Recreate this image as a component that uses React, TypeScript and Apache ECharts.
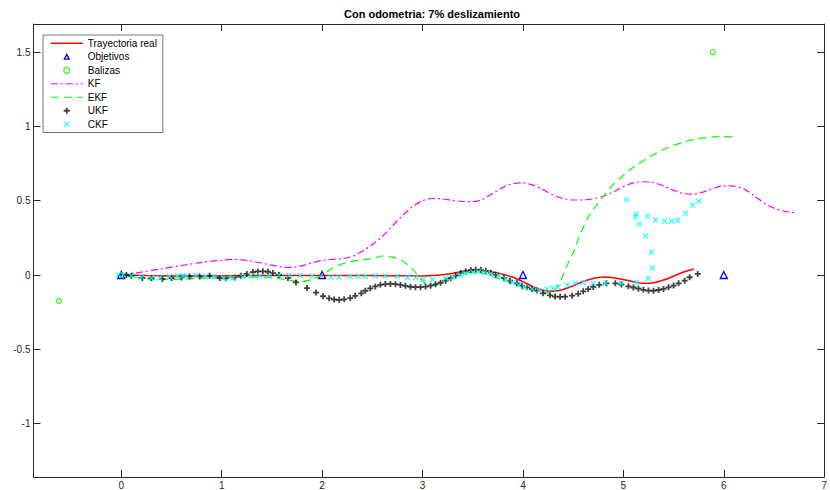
import React, { useEffect, useRef } from "react";
import * as echarts from "echarts";

const FONT = "'Liberation Sans', Arial, Helvetica, sans-serif";

// Trayectoria real
const realX = [0, 0.25, 0.5, 0.75, 1, 1.25, 1.5, 1.75, 2, 2.25, 2.5, 2.75, 3, 3.1, 3.2, 3.3, 3.4, 3.5, 3.6, 3.7, 3.8, 3.9, 4, 4.1, 4.2, 4.3, 4.4, 4.5, 4.6, 4.7, 4.8, 4.9, 5, 5.1, 5.2, 5.3, 5.4, 5.5, 5.6, 5.7];
const realY = [0, -0.004, -0.006, -0.007, -0.006, -0.004, -0.003, -0.003, -0.003, -0.003, -0.004, -0.005, -0.006, -0.004, 0.002, 0.012, 0.024, 0.032, 0.03, 0.02, 0.005, -0.015, -0.045, -0.078, -0.103, -0.11, -0.098, -0.072, -0.044, -0.024, -0.014, -0.018, -0.03, -0.046, -0.056, -0.052, -0.034, -0.008, 0.02, 0.04];

// Objetivos
const objX = [0, 2, 4, 6];
const objY = [0, 0, 0, 0];

// Balizas
const balX = [-0.62, 5.89];
const balY = [-0.175, 1.5];

// KF
const kfX = [0, 0.2, 0.4, 0.6, 0.8, 1.0, 1.1, 1.2, 1.3, 1.4, 1.5, 1.6, 1.7, 1.8, 1.9, 2.0, 2.1, 2.2, 2.3, 2.4, 2.5, 2.6, 2.7, 2.8, 2.9, 3.0, 3.1, 3.2, 3.3, 3.4, 3.5, 3.6, 3.7, 3.8, 3.9, 4.0, 4.1, 4.2, 4.3, 4.4, 4.5, 4.6, 4.7, 4.8, 4.9, 5.0, 5.1, 5.2, 5.3, 5.4, 5.5, 5.6, 5.7, 5.8, 5.9, 6.0, 6.1, 6.2, 6.3, 6.4, 6.5, 6.6, 6.7];
const kfY = [0, 0.02, 0.042, 0.064, 0.085, 0.1, 0.105, 0.102, 0.093, 0.08, 0.066, 0.055, 0.052, 0.062, 0.082, 0.098, 0.105, 0.11, 0.125, 0.16, 0.205, 0.26, 0.33, 0.4, 0.46, 0.5, 0.515, 0.512, 0.503, 0.495, 0.494, 0.51, 0.55, 0.59, 0.615, 0.62, 0.605, 0.575, 0.54, 0.515, 0.505, 0.505, 0.513, 0.53, 0.56, 0.595, 0.62, 0.628, 0.622, 0.6, 0.57, 0.548, 0.545, 0.56, 0.585, 0.6, 0.598, 0.58, 0.535, 0.485, 0.45, 0.43, 0.42];

// EKF
const ekfX = [0, 0.1, 0.2, 0.3, 0.4, 0.6, 0.8, 1.0, 1.2, 1.4, 1.5, 1.6, 1.7, 1.8, 1.9, 2.0, 2.1, 2.2, 2.3, 2.4, 2.5, 2.6, 2.7, 2.8, 2.9, 3.0, 3.05, 3.1, 3.2, 3.3, 3.4, 3.5, 3.6, 3.7, 3.8, 3.9, 4.0, 4.1, 4.2, 4.28, 4.35, 4.4, 4.45, 4.5, 4.55, 4.6, 4.65, 4.7, 4.8, 4.9, 5.0, 5.1, 5.2, 5.3, 5.4, 5.5, 5.6, 5.7, 5.8, 5.9, 6.0, 6.1];
const ekfY = [0, -0.01, -0.02, -0.027, -0.03, -0.028, -0.022, -0.02, -0.016, -0.014, -0.018, -0.027, -0.038, -0.044, -0.03, 0.0, 0.045, 0.075, 0.092, 0.102, 0.11, 0.128, 0.12, 0.095, 0.04, -0.04, -0.065, -0.07, -0.04, -0.012, 0.008, 0.02, 0.012, -0.012, -0.035, -0.058, -0.078, -0.098, -0.118, -0.12, -0.07, 0.0, 0.08, 0.15, 0.24, 0.32, 0.39, 0.44, 0.53, 0.61, 0.67, 0.725, 0.77, 0.81, 0.845, 0.872, 0.895, 0.912, 0.923, 0.93, 0.932, 0.93];

// UKF
const ukfX = [0, 0.05, 0.1, 0.21, 0.3, 0.41, 0.5, 0.6, 0.68, 0.78, 0.88, 0.98, 1.04, 1.13, 1.19, 1.25, 1.31, 1.36, 1.41, 1.46, 1.51, 1.57, 1.66, 1.74, 1.85, 1.94, 2.01, 2.07, 2.12, 2.17, 2.22, 2.28, 2.33, 2.39, 2.43, 2.48, 2.53, 2.58, 2.63, 2.68, 2.73, 2.78, 2.83, 2.88, 2.93, 2.98, 3.03, 3.08, 3.13, 3.18, 3.23, 3.28, 3.33, 3.38, 3.43, 3.48, 3.53, 3.58, 3.63, 3.68, 3.73, 3.81, 3.87, 3.94, 3.99, 4.04, 4.09, 4.14, 4.2, 4.27, 4.32, 4.37, 4.42, 4.49, 4.55, 4.6, 4.65, 4.7, 4.76, 4.83, 4.92, 4.98, 5.05, 5.1, 5.15, 5.2, 5.25, 5.3, 5.35, 5.4, 5.45, 5.5, 5.55, 5.61, 5.66, 5.74];
const ukfY = [0, 0, -0.005, -0.02, -0.022, -0.027, -0.02, -0.016, -0.01, -0.01, -0.005, -0.02, -0.022, -0.016, -0.005, 0.007, 0.02, 0.024, 0.025, 0.022, 0.013, 0, -0.02, -0.05, -0.088, -0.118, -0.143, -0.157, -0.165, -0.167, -0.164, -0.155, -0.14, -0.123, -0.106, -0.09, -0.077, -0.066, -0.061, -0.06, -0.062, -0.067, -0.073, -0.079, -0.082, -0.082, -0.078, -0.072, -0.063, -0.052, -0.038, -0.022, -0.004, 0.013, 0.026, 0.033, 0.036, 0.034, 0.028, 0.016, 0.002, -0.02, -0.038, -0.056, -0.072, -0.083, -0.094, -0.105, -0.123, -0.137, -0.145, -0.147, -0.146, -0.139, -0.127, -0.11, -0.095, -0.08, -0.066, -0.056, -0.056, -0.064, -0.076, -0.084, -0.092, -0.1, -0.105, -0.106, -0.101, -0.094, -0.083, -0.071, -0.056, -0.038, -0.015, 0.007];

// CKF
const ckfX = [-0.03, 0.02, 0.1, 0.2, 0.3, 0.38, 0.48, 0.56, 0.61, 0.65, 0.75, 0.84, 0.92, 1.02, 1.11, 1.21, 1.29, 1.38, 1.47, 1.57, 1.67, 1.78, 1.9, 2.09, 2.17, 2.28, 2.36, 2.43, 2.53, 2.63, 2.75, 2.85, 2.93, 3.01, 3.1, 3.23, 3.3, 3.38, 3.43, 3.5, 3.56, 3.62, 3.68, 3.76, 3.83, 3.9, 3.96, 4.02, 4.09, 4.16, 4.24, 4.3, 4.35, 4.44, 4.52, 4.6, 4.7, 4.82, 4.98, 5.13, 5.25, 5.29, 5.28, 5.22, 5.16, 5.12, 5.13, 5.03, 5.24, 5.32, 5.41, 5.48, 5.54, 5.62, 5.69, 5.75];
const ckfY = [0, 0.002, -0.005, -0.014, -0.02, -0.02, -0.01, -0.006, -0.005, -0.005, -0.002, -0.01, -0.01, -0.022, -0.022, -0.012, -0.006, -0.006, -0.006, -0.003, -0.003, -0.003, -0.008, -0.015, -0.015, -0.01, -0.008, -0.008, -0.005, -0.005, -0.009, -0.015, -0.017, -0.03, -0.032, -0.022, -0.016, 0.0, 0.012, 0.018, 0.022, 0.02, 0.01, -0.005, -0.027, -0.05, -0.068, -0.083, -0.094, -0.103, -0.094, -0.088, -0.08, -0.066, -0.055, -0.049, -0.055, -0.054, -0.058, -0.049, -0.022, 0.047, 0.152, 0.265, 0.342, 0.392, 0.41, 0.507, 0.396, 0.37, 0.362, 0.362, 0.368, 0.416, 0.47, 0.498];

// Axis ticks
const xTicks = [0, 1, 2, 3, 4, 5, 6, 7];
const yTicks = [-1, -0.5, 0, 0.5, 1, 1.5];
const xMin = -0.874;
const xMax = 7;
const yMin = -1.36;
const yMax = 1.69;

const zip = (xs: number[], ys: number[]) => xs.map((x, i) => [x, ys[i]]);

const PLUS = "path://M3.5,0H6.5V10H3.5Z M0,3.5H10V6.5H0Z";
const CROSS = "path://M0,1.5L1.5,0L5,3.5L8.5,0L10,1.5L6.5,5L10,8.5L8.5,10L5,6.5L1.5,10L0,8.5L3.5,5Z";

const AX = "#262626";

function makeXAxis(position: "bottom" | "top", labels: boolean) {
  return {
    type: "value",
    min: xMin,
    max: xMax,
    position,
    axisLine: { show: true, onZero: false, lineStyle: { color: AX, width: 1 } },
    axisTick: { show: true, inside: true, length: 7, customValues: xTicks, lineStyle: { color: AX, width: 1 } },
    axisLabel: {
      show: labels,
      customValues: xTicks,
      fontSize: 10,
      fontFamily: FONT,
      color: AX,
      margin: 3,
    },
    splitLine: { show: false },
  };
}

function makeYAxis(position: "left" | "right", labels: boolean) {
  return {
    type: "value",
    min: yMin,
    max: yMax,
    position,
    axisLine: { show: true, onZero: false, lineStyle: { color: AX, width: 1 } },
    axisTick: { show: true, inside: true, length: 7, customValues: yTicks, lineStyle: { color: AX, width: 1 } },
    axisLabel: {
      show: labels,
      customValues: yTicks,
      fontSize: 10,
      fontFamily: FONT,
      color: AX,
      margin: 3,
    },
    splitLine: { show: false },
  };
}

export default function App() {
  const ref = useRef<HTMLDivElement>(null);

  useEffect(() => {
    if (!ref.current) return;
    const chart = echarts.init(ref.current, null, { renderer: "svg" });
    const option: any = {
      animation: false,
      backgroundColor: "#ffffff",
      title: {
        text: "Con odometria: 7% deslizamiento",
        left: 432,
        top: 8,
        padding: 0,
        textAlign: "center",
        textStyle: { fontSize: 11, fontWeight: "bold", color: "#000", fontFamily: FONT },
      },
      grid: { left: 33.5, right: 2, top: 24, bottom: 11, containLabel: false },
      xAxis: [makeXAxis("bottom", true), makeXAxis("top", false)],
      yAxis: [makeYAxis("left", true), makeYAxis("right", false)],
      legend: {
        orient: "vertical",
        left: 43,
        top: 35,
        itemWidth: 32,
        itemHeight: 6,
        itemGap: 0,
        padding: [1.5, 6, 1.5, 7],
        borderColor: "#555",
        borderWidth: 0.8,
        borderRadius: 0,
        backgroundColor: "#ffffff",
        selectedMode: false,
        textStyle: { fontSize: 10, fontFamily: FONT, color: "#000", lineHeight: 13.5 },
        lineStyle: { width: "inherit" },
        data: [
          { name: "Trayectoria real", itemStyle: { opacity: 0 } },
          { name: "Objetivos", itemStyle: { borderWidth: 1.3 }, lineStyle: { opacity: 0 } },
          { name: "Balizas", itemStyle: { borderWidth: 1.3 } },
          { name: "KF", itemStyle: { opacity: 0 } },
          { name: "EKF", itemStyle: { opacity: 0 } },
          { name: "UKF", itemStyle: { borderWidth: 0 } },
          { name: "CKF", itemStyle: { borderWidth: 0 } },
        ],
      },
      series: [
        {
          name: "Trayectoria real",
          type: "line",
          data: zip(realX, realY),
          symbol: "none",
          showSymbol: false,
          smooth: 0.3,
          lineStyle: { color: "#ff0000", width: 1.5 },
          itemStyle: { color: "#ff0000" },
          z: 2,
        },
        {
          name: "Objetivos",
          type: "line",
          data: zip(objX, objY),
          symbol: "triangle",
          symbolSize: 7,
          showSymbol: true,
          lineStyle: { width: 0, opacity: 0 },
          itemStyle: { color: "rgba(255,255,255,0)", borderColor: "#0000ff", borderWidth: 1.3 },
          z: 3,
        },
        {
          name: "Balizas",
          type: "scatter",
          data: zip(balX, balY),
          symbol: "circle",
          symbolSize: 5,
          itemStyle: { color: "rgba(255,255,255,0)", borderColor: "#00ff00", borderWidth: 1.3 },
          z: 3,
        },
        {
          name: "KF",
          type: "line",
          data: zip(kfX, kfY),
          symbol: "none",
          showSymbol: false,
          smooth: 0.3,
          lineStyle: { color: "#ff00ff", width: 1.2, type: [7, 3, 2, 3] },
          itemStyle: { color: "#ff00ff" },
          z: 4,
        },
        {
          name: "EKF",
          type: "line",
          data: zip(ekfX, ekfY),
          symbol: "none",
          showSymbol: false,
          smooth: 0.3,
          lineStyle: { color: "#00ff00", width: 1.2, type: [8, 5] },
          itemStyle: { color: "#00ff00" },
          z: 5,
        },
        {
          name: "UKF",
          type: "scatter",
          data: zip(ukfX, ukfY),
          symbol: PLUS,
          symbolSize: 6,
          itemStyle: { color: "#111111" },
          z: 6,
        },
        {
          name: "CKF",
          type: "scatter",
          data: zip(ckfX, ckfY),
          symbol: CROSS,
          symbolSize: 6,
          itemStyle: { color: "#00ffff" },
          z: 7,
        },
      ],
    };
    chart.setOption(option);
    return () => chart.dispose();
  }, []);

  return (
    <div
      ref={ref}
      style={{ position: "fixed", left: 0, top: 0, width: 830, height: 490, background: "#fff" }}
    />
  );
}
